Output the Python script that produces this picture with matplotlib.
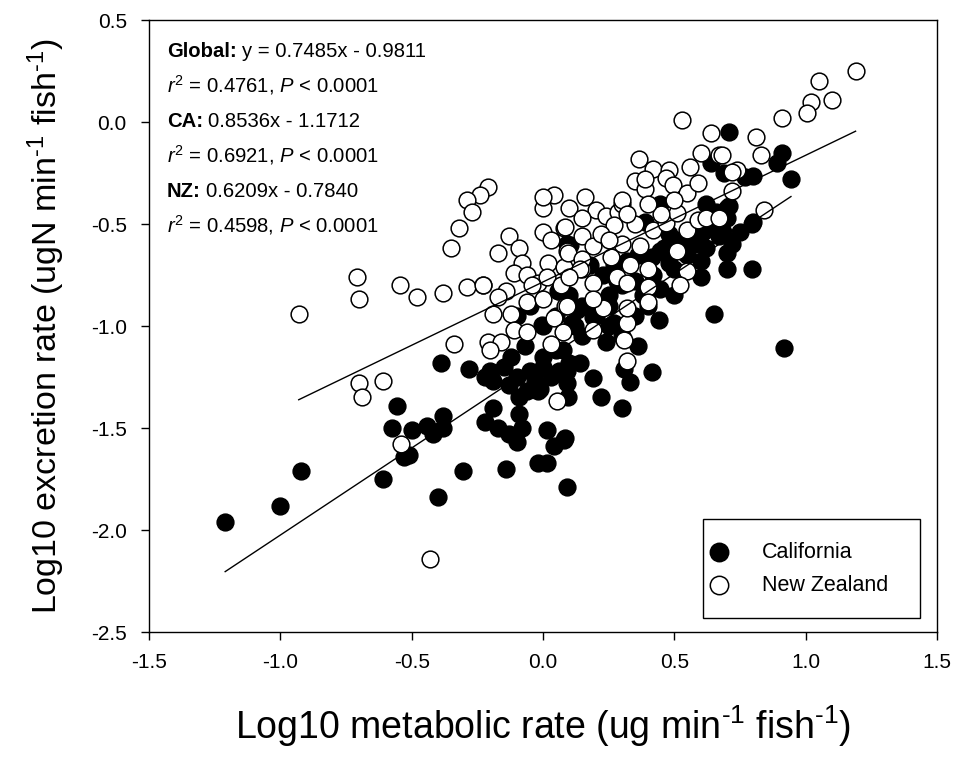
import matplotlib
matplotlib.use("Agg")
import matplotlib.pyplot as plt
from matplotlib.patches import Rectangle
import numpy as np

plt.rcParams['font.family'] = ['Liberation Sans', 'DejaVu Sans']
plt.rcParams['mathtext.fontset'] = 'custom'
plt.rcParams['mathtext.rm'] = 'Liberation Sans'
plt.rcParams['mathtext.it'] = 'Liberation Sans:italic'
plt.rcParams['mathtext.bf'] = 'Liberation Sans:bold'

# California (filled) points: (log10 metabolic rate, log10 excretion rate)
ca_x = [-1.21, -1.00, -0.92, -0.61, -0.556, -0.575, -0.53, -0.39, -0.28, -0.22,
        -0.19, -0.13, -0.38, -0.50, -0.44, -0.38, -0.42, -0.51, -0.305, -0.40,
        -0.14, -0.19, -0.22, -0.17, -0.13, -0.10, -0.08, -0.09, -0.09, -0.02,
        0.015, 0.04, -0.02, 0.015, 0.08, 0.09,
        -0.20, -0.15, -0.10, -0.05, -0.03, 0.00, 0.03, 0.06, 0.09, -0.06,
        0.00, 0.05, -0.12, 0.10, -0.07, -0.01, -0.23,
        0.65, 0.44, 0.415, 0.33, 0.19, 0.22, 0.30, 0.36, 0.31, 0.24,
        0.14, 0.09, 0.095, 0.084, 0.076, 0.15, 0.27, 0.19, 0.13,
        0.445, 0.39, 0.64, 0.69, 0.62, 0.66, 0.70, 0.60, 0.09, 0.48,
        0.445, 0.415, 0.67, 0.70, 0.61, 0.32, 0.445,
        0.71, 0.91, 0.89, 0.944, 0.80, 0.77, 0.71, 0.80, 0.70, 0.795,
        0.70, 0.917, 0.72, 0.795, 0.75, 0.685,
        0.20, 0.25, 0.30, 0.35, 0.38, 0.42, 0.50, 0.55, 0.58, 0.52,
        0.48, 0.55, 0.60, 0.62, 0.65, 0.50, 0.35, 0.25, 0.30, 0.40,
        0.10, 0.15, 0.20, 0.12, 0.05, 0.00, 0.11, 0.06, -0.05, -0.10,
        0.25, 0.28, 0.057, -0.004, 0.103, 0.18, 0.23, 0.27, 0.36, 0.46]
ca_y = [-1.96, -1.88, -1.71, -1.75, -1.39, -1.50, -1.64, -1.18, -1.21, -1.25,
        -1.27, -1.29, -1.44, -1.51, -1.49, -1.50, -1.53, -1.63, -1.71, -1.84,
        -1.70, -1.40, -1.47, -1.50, -1.53, -1.57, -1.50, -1.43, -1.35, -1.32,
        -1.51, -1.59, -1.67, -1.67, -1.56, -1.79,
        -1.22, -1.20, -1.25, -1.22, -1.27, -1.20, -1.25, -1.22, -1.28, -1.32,
        -1.15, -1.12, -1.15, -1.18, -1.10, -1.31, -0.80,
        -0.94, -0.97, -1.225, -1.275, -1.255, -1.35, -1.40, -1.10, -1.21, -1.08,
        -1.18, -1.22, -1.35, -1.55, -1.12, -1.05, -0.985, -0.956, -0.92,
        -0.40, -0.49, -0.20, -0.25, -0.40, -0.44, -0.42, -0.76, -0.60, -0.69,
        -0.63, -0.66, -0.56, -0.64, -0.54, -0.68, -0.82,
        -0.05, -0.15, -0.20, -0.28, -0.265, -0.27, -0.41, -0.49, -0.47, -0.72,
        -0.72, -1.11, -0.60, -0.50, -0.54, -0.54,
        -0.90, -0.85, -0.80, -0.78, -0.85, -0.75, -0.72, -0.65, -0.60, -0.58,
        -0.55, -0.55, -0.68, -0.62, -0.50, -0.85, -0.95, -1.00, -1.05, -0.90,
        -0.85, -0.90, -0.95, -1.00, -0.95, -1.00, -0.985, -0.83, -0.90, -0.95,
        -0.90, -0.78, -0.83, -0.995, -0.603, -0.70, -0.75, -0.70, -0.65, -0.62]

# New Zealand (open) points
nz_x = [-0.93, -0.70, -0.71, -0.70, -0.61, -0.69, -0.54, -0.43, -0.34,
        -0.21, -0.24, -0.29, -0.27, -0.32, -0.35, -0.545, -0.48, -0.38, -0.29,
        -0.23, -0.17, -0.13, -0.09, -0.08, -0.11, -0.06, -0.14, -0.17, 0.00,
        0.03, 0.00, 0.04, 0.08, 0.02, -0.02, 0.015, -0.06, 0.00, 0.09, 0.08,
        0.084, 0.095, 0.15, -0.19, -0.12, -0.04, 0.07, 0.084, 0.04, -0.11,
        -0.06, 0.076, -0.21, -0.16, 0.03, 0.15,
        0.365, 0.42, 0.48, 0.56, 0.60, 0.67, 0.35, 0.39, 0.39, 0.47, 0.495,
        0.55, 0.59, 0.16, 0.10, 0.20, 0.24, 0.285, 0.30, 0.15, 0.27, 0.19,
        0.15, 0.26, 0.14, 0.10, 0.19, 0.28, 0.33, 0.37, 0.42, 0.47, 0.51,
        0.55, 0.59, 0.62, 0.67, 0.40, 0.51, 0.55, 0.52, 0.40, 0.32,
        0.00, 0.30, 0.32, 0.31, 0.32, 0.32, 0.40, 0.23, 0.19, 0.19, 0.09,
        1.19, 1.05, 1.10, 1.02, 1.005, 0.91, 0.81, 0.83, 0.74, 0.72, 0.68,
        0.72, 0.84, 0.53, 0.64, 0.053,
        0.22, 0.30, 0.25, 0.35, 0.32, 0.45, 0.50, 0.40, -0.20]
nz_y = [-0.94, -0.87, -0.76, -1.28, -1.27, -1.35, -1.58, -2.14, -1.09,
        -0.32, -0.36, -0.38, -0.44, -0.52, -0.62, -0.80, -0.86, -0.84, -0.81,
        -0.80, -0.64, -0.56, -0.62, -0.69, -0.74, -0.75, -0.83, -0.86, -0.54,
        -0.58, -0.42, -0.36, -0.52, -0.69, -0.79, -0.76, -0.88, -0.87, -0.63, -0.71,
        -0.515, -0.64, -0.72, -0.94, -0.94, -0.80, -0.80, -0.90, -0.96, -1.02,
        -1.03, -1.03, -1.08, -1.08, -1.09, -0.56,
        -0.18, -0.23, -0.235, -0.22, -0.15, -0.16, -0.29, -0.33, -0.28, -0.275, -0.31,
        -0.35, -0.30, -0.37, -0.42, -0.43, -0.46, -0.44, -0.40, -0.47, -0.505, -0.61,
        -0.67, -0.66, -0.72, -0.76, -0.79, -0.76, -0.70, -0.61, -0.53, -0.495, -0.445,
        -0.53, -0.48, -0.47, -0.47, -0.72, -0.63, -0.73, -0.80, -0.81, -0.79,
        -0.37, -0.38, -1.17, -1.07, -0.985, -0.91, -0.88, -0.91, -0.87, -1.02, -0.90,
        0.25, 0.20, 0.11, 0.10, 0.045, 0.02, -0.075, -0.16, -0.235, -0.245, -0.16,
        -0.34, -0.43, 0.01, -0.055, -1.37,
        -0.55, -0.60, -0.58, -0.50, -0.45, -0.45, -0.38, -0.40, -1.12]

ca_fit = (0.8536, -1.1712)
nz_fit = (0.6209, -0.7840)

# (bold prefix, rest of line)
stats_lines = [("Global:", "y = 0.7485x - 0.9811"),
               ("", r"$r^2$ = 0.4761, $P$ < 0.0001"),
               ("CA:", "0.8536x - 1.1712"),
               ("", r"$r^2$ = 0.6921, $P$ < 0.0001"),
               ("NZ:", "0.6209x - 0.7840"),
               ("", r"$r^2$ = 0.4598, $P$ < 0.0001")]

W, H = 956, 760
L, R, T, B = 149, 937, 20, 632
fig = plt.figure(figsize=(W/100, H/100), dpi=100)
ax = fig.add_axes([L/W, 1-B/H, (R-L)/W, (B-T)/H])

def ax_frac(px, py):
    return ((px - L)/(R - L), (B - py)/(B - T))

ms = 145
ax.scatter(ca_x, ca_y, s=ms, facecolor='black', edgecolor='black', linewidth=1.1,
           label='California', zorder=3)
ax.scatter(nz_x, nz_y, s=ms, facecolor='white', edgecolor='black', linewidth=1.1,
           label='New Zealand', zorder=3)

xs = np.array([min(ca_x), max(ca_x)])
ax.plot(xs, ca_fit[0]*xs + ca_fit[1], color='black', lw=1.0, zorder=4)
xs = np.array([min(nz_x), max(nz_x)])
ax.plot(xs, nz_fit[0]*xs + nz_fit[1], color='black', lw=1.0, zorder=4)

ax.set_xlim(-1.5, 1.5)
ax.set_ylim(-2.5, 0.5)
xt = np.arange(-1.5, 1.51, 0.5)
yt = np.arange(-2.5, 0.51, 0.5)
ax.set_xticks(xt)
ax.set_yticks(yt)
ax.set_xticklabels([f"{v:.1f}" for v in xt])
ax.set_yticklabels([f"{v:.1f}" for v in yt])
ax.tick_params(axis='both', direction='out', length=6, width=1, labelsize=15,
               top=False, right=False)
ax.tick_params(axis='x', pad=9)
ax.tick_params(axis='y', pad=10)
for sp in ax.spines.values():
    sp.set_linewidth(1.0)

ax.set_xlabel(r"Log10 metabolic rate (ug min$^{\text{-1}}$ fish$^{\text{-1}}$)",
              fontsize=27, labelpad=23)
ax.set_ylabel(r"Log10 excretion rate (ugN min$^{\text{-1}}$ fish$^{\text{-1}}$)",
              fontsize=24.5, labelpad=17)

fs_txt = 14.6
for i, (bold, rest) in enumerate(stats_lines):
    pos = ax_frac(167, 57 + i*35)
    if bold:
        tb = ax.text(pos[0], pos[1], bold, transform=ax.transAxes, fontsize=fs_txt,
                     fontweight='bold', va='baseline', ha='left')
        ax.annotate(rest, xy=(1, 0), xycoords=tb, xytext=(3.5, 0),
                    textcoords='offset points', fontsize=fs_txt,
                    va='bottom', ha='left')
    else:
        ax.text(pos[0], pos[1], rest, transform=ax.transAxes, fontsize=fs_txt,
                va='baseline', ha='left')

# legend entries (frame drawn separately)
fs_leg = 15.5
fs_px = fs_leg * 100 / 72
hl = 1.0
anchor = ax_frac(719 - hl * fs_px / 2, 569)
leg = ax.legend(loc='center left', bbox_to_anchor=anchor, fontsize=fs_leg,
                frameon=False, borderpad=0, borderaxespad=0, handlelength=hl,
                handletextpad=(762 - 719 - hl * fs_px / 2) / fs_px,
                labelspacing=0.55, markerscale=1.1)
x0, y0 = ax_frac(703, 618)
x1, y1 = ax_frac(920, 519)
ax.add_patch(Rectangle((x0, y0), x1 - x0, y1 - y0, transform=ax.transAxes,
                       facecolor='white', edgecolor='black', lw=1.0, zorder=5))
leg.set_zorder(6)

fig.savefig("out.png", dpi=100)
